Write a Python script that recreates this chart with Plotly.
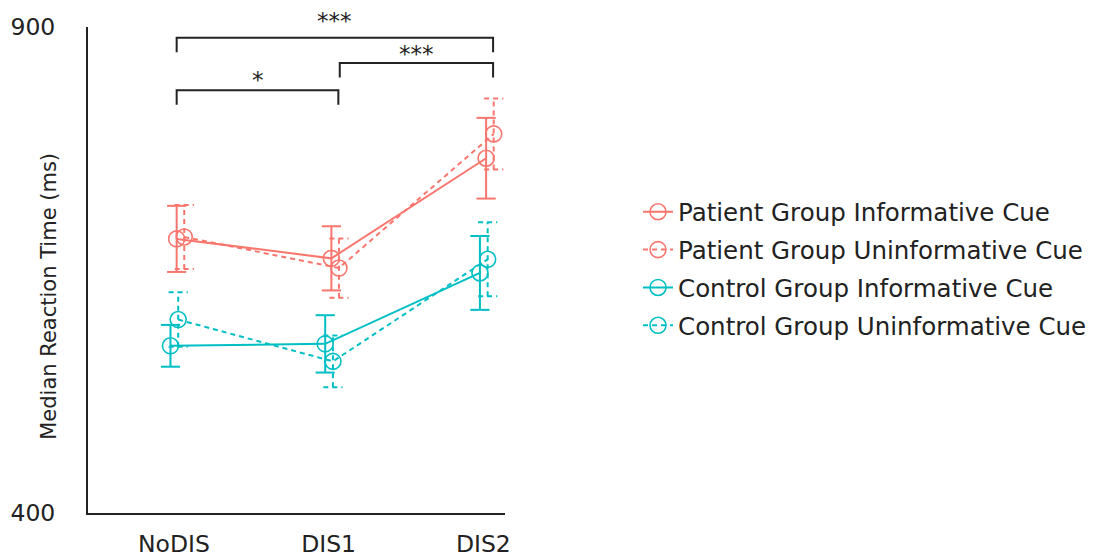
import plotly.graph_objects as go

# ---------------- data ----------------
conditions = ["NoDIS", "DIS1", "DIS2"]

series_names = [
    "Patient Group Informative Cue",
    "Patient Group Uninformative Cue",
    "Control Group Informative Cue",
    "Control Group Uninformative Cue",
]

patient_inf = [682, 662, 765]
patient_inf_err = [34, 33, 41.5]
patient_uninf = [684, 652, 790]
patient_uninf_err = [33, 30.5, 36.5]
control_inf = [572, 574, 647]
control_inf_err = [21.5, 29.5, 38]
control_uninf = [599, 556, 661]
control_uninf_err = [28, 26.5, 38]

y_tick_vals = [400, 900]
y_tick_text = ["400", "900"]

sig_pairs = [(0, 1), (1, 2), (0, 2)]
sig_labels = ["*", "***", "***"]
sig_heights = [835, 863, 889]

# ---------------- styles ----------------
RED = "#F8766D"
TEAL = "#00BFC4"
INK = "#222222"
FONT = "DejaVu Sans"

series = [
    dict(name=series_names[0], y=patient_inf, err=patient_inf_err, color=RED, dash="solid", off=0.018),
    dict(name=series_names[1], y=patient_uninf, err=patient_uninf_err, color=RED, dash="5px,4px", off=0.067),
    dict(name=series_names[2], y=control_inf, err=control_inf_err, color=TEAL, dash="solid", off=-0.022),
    dict(name=series_names[3], y=control_uninf, err=control_uninf_err, color=TEAL, dash="5px,4px", off=0.028),
]
label_gap = [-5, -6, 2]   # px gap between bracket and its label

cap = 0.062
fig = go.Figure()

for i, s in enumerate(series):
    xs = [k + s["off"] for k in range(len(conditions))]
    ex, ey = [], []
    for x, y, e in zip(xs, s["y"], s["err"]):
        ex += [x, x, None, x - cap, x + cap, None, x - cap, x + cap, None]
        ey += [y - e, y + e, None, y + e, y + e, None, y - e, y - e, None]
    fig.add_trace(go.Scatter(
        x=ex, y=ey, mode="lines", legendgroup=f"g{i}", showlegend=False,
        line=dict(color=s["color"], width=2, dash=s["dash"]), hoverinfo="skip",
    ))
    fig.add_trace(go.Scatter(
        x=xs, y=s["y"], mode="lines+markers", name=s["name"], legendgroup=f"g{i}",
        line=dict(color=s["color"], width=2, dash=s["dash"]),
        marker=dict(symbol="circle-open", size=16, color=s["color"], line=dict(width=1.6, color=s["color"])),
    ))

# significance brackets
drop = 15
for ((a, b), h, lab, g) in zip(sig_pairs, sig_heights, sig_labels, label_gap):
    x0 = a + (0.018 if a == 0 else 0.072)
    x1 = b + 0.063
    fig.add_trace(go.Scatter(
        x=[x0, x0, x1, x1], y=[h - drop, h, h, h - drop], mode="lines",
        line=dict(color=INK, width=2), showlegend=False, hoverinfo="skip",
        cliponaxis=False,
    ))
    fig.add_annotation(x=(x0 + x1) / 2, y=h, xref="x", yref="y", text=lab, showarrow=False,
                       font=dict(family=FONT, size=23, color=INK), yanchor="bottom", yshift=g)

# y-axis title as annotation
fig.add_annotation(x=-0.127, y=0.445, xref="paper", yref="paper", text="Median Reaction Time (ms)",
                   textangle=-90, showarrow=False, font=dict(family=FONT, size=21, color=INK))

# page body adds an 8px margin, so the figure is sized to fit the 1094x559 window
fig.update_layout(
    width=1086, height=551,
    margin=dict(l=80, r=589, t=19, b=46, autoexpand=False),
    plot_bgcolor="white", paper_bgcolor="white",
    font=dict(family=FONT, color=INK),
    showlegend=True,
    legend=dict(x=1.319, y=0.666, xanchor="left", yanchor="top",
                font=dict(family=FONT, size=24.5, color=INK),
                tracegroupgap=3, bgcolor="rgba(0,0,0,0)"),
)

fig.update_xaxes(
    range=[-0.555, 2.14], tickvals=list(range(len(conditions))), ticktext=conditions,
    showline=True, linecolor=INK, linewidth=2, showgrid=False, zeroline=False, automargin=False,
    ticks="", tickfont=dict(family=FONT, size=23.5, color=INK), ticklabelstandoff=9,
)
fig.update_yaxes(
    range=[400, 900], tickvals=y_tick_vals, ticktext=y_tick_text,
    showline=True, linecolor=INK, linewidth=2, showgrid=False, zeroline=False, automargin=False,
    ticks="", tickfont=dict(family=FONT, size=23.5, color=INK), ticklabelstandoff=26,
)

fig.write_html("out.html")
